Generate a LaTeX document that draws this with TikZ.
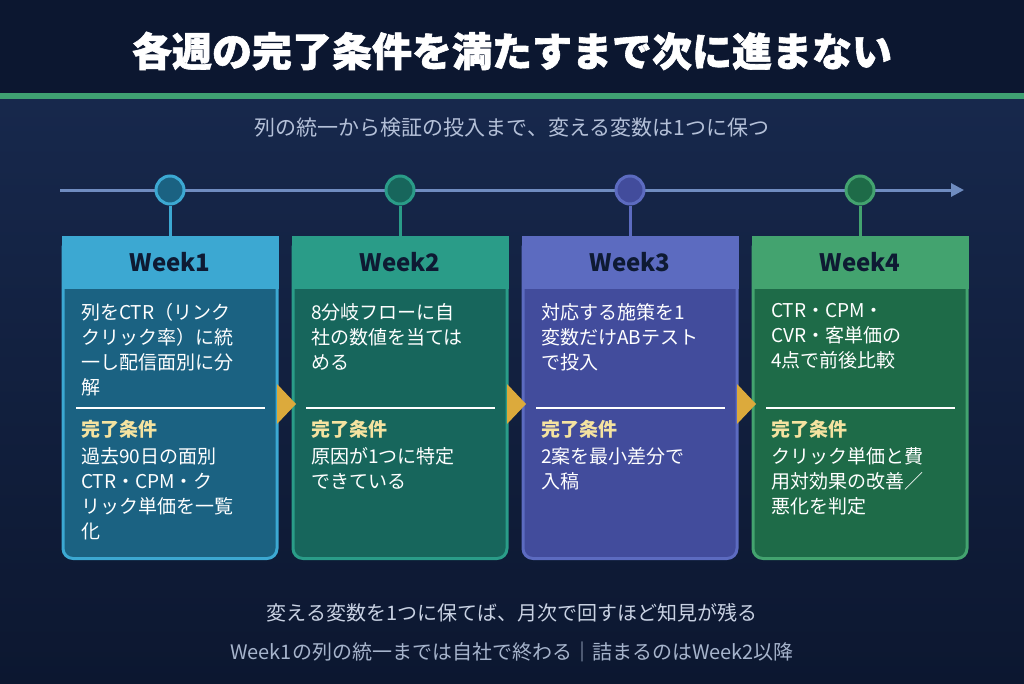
\documentclass[tikz,border=0pt]{standalone}
\usepackage{fontspec}
\setmainfont{Noto Sans CJK JP}
\newfontfamily\heavyfont{Noto Sans CJK JP}[BoldFeatures={FakeBold=1.5}]
\usetikzlibrary{arrows.meta, positioning, calc}
\definecolor{navy_dark}{HTML}{0C1730}
\definecolor{navy_mid}{HTML}{17284C}
\definecolor{stripe_green}{HTML}{3FA172}
\definecolor{axis_blue}{HTML}{6F8CC0}
\definecolor{sub_gray}{HTML}{B4C0D8}
\definecolor{foot_gray}{HTML}{C9D2E3}
\definecolor{note_gray}{HTML}{A6B4CC}
\definecolor{gold}{HTML}{DCAA3C}
\definecolor{cond_yellow}{HTML}{F5E3A0}
\definecolor{ink}{HTML}{0E1A33}
\definecolor{wk1_head}{HTML}{3CA8D2}
\definecolor{wk1_body}{HTML}{1B6282}
\definecolor{wk2_head}{HTML}{2A9C88}
\definecolor{wk2_body}{HTML}{17665C}
\definecolor{wk3_head}{HTML}{5C6BC0}
\definecolor{wk3_body}{HTML}{424C9C}
\definecolor{wk4_head}{HTML}{43A36F}
\definecolor{wk4_body}{HTML}{1E6B48}

\begin{document}
\begin{tikzpicture}[
    x=1pt, y=-1pt,
    title/.style={
        text=white,
        inner sep=0pt,
        font=\fontsize{40}{46}\selectfont\heavyfont\bfseries
    },
    subtitle/.style={
        text=#1,
        inner sep=0pt,
        font=\fontsize{21}{25}\selectfont
    },
    card/.style={
        rectangle,
        draw=wk#1_head,
        fill=wk#1_body,
        line width=3pt,
        rounded corners=10pt,
        minimum width=214pt,
        minimum height=321pt
    },
    head/.style={
        rectangle,
        fill=wk#1_head,
        text=ink,
        minimum width=217pt,
        minimum height=53pt,
        inner sep=0pt,
        font=\fontsize{24}{28}\selectfont\bfseries
    },
    dot/.style={
        circle,
        draw=wk#1_head,
        fill=wk#1_body,
        line width=3pt,
        minimum size=28pt,
        inner sep=0pt
    },
    stem/.style={
        line width=3pt,
        draw=wk#1_head
    },
    desc/.style={
        anchor=north west,
        inner sep=0pt,
        align=left,
        text=white,
        font=\fontsize{19}{25}\selectfont
    },
    condlabel/.style={
        anchor=west,
        inner sep=0pt,
        text=cond_yellow,
        font=\fontsize{19}{25}\selectfont\bfseries
    },
    divider/.style={
        white,
        line width=2.5pt
    },
    axis/.style={
        -{Triangle[length=13pt,width=13pt]},
        line width=3pt,
        axis_blue
    }
]

\useasboundingbox (0,0) rectangle (1024,683);

% Background, title band and green stripe
\shade[top color=navy_mid, bottom color=navy_dark] (0,99) rectangle (1024,683);
\fill[navy_dark] (0,0) rectangle (1024,93);
\fill[stripe_green] (0,93) rectangle (1024,99);

% Define column positions
\def\colA{170}
\def\colB{400}
\def\colC{630}
\def\colD{860}

% Title and subtitle
\node[title] (title) at (512,51) {各週の完了条件を満たすまで次に進まない};
\node[subtitle=sub_gray] (subtitle) at (512,128) {列の統一から検証の投入まで、変える変数は1つに保つ};

% Timeline with week markers
\coordinate (axis_start) at (60,190);
\coordinate (axis_end) at (964,190);
\draw[axis] (axis_start) -- (axis_end);
\node[dot=1] (dot1) at (\colA,190) {};
\node[dot=2] (dot2) at (\colB,190) {};
\node[dot=3] (dot3) at (\colC,190) {};
\node[dot=4] (dot4) at (\colD,190) {};

% Week cards
\node[card=1] (card1) at (\colA,398) {};
\node[card=2] (card2) at (\colB,398) {};
\node[card=3] (card3) at (\colC,398) {};
\node[card=4] (card4) at (\colD,398) {};

\node[head=1] (head1) at (\colA,262.5) {Week1};
\node[head=2] (head2) at (\colB,262.5) {Week2};
\node[head=3] (head3) at (\colC,262.5) {Week3};
\node[head=4] (head4) at (\colD,262.5) {Week4};

% Stems from markers to cards
\foreach \i in {1,...,4} {
    \draw[stem=\i] (dot\i) -- (head\i);
}

% Tasks of each week
\node[desc] (desc1) at (\colA-89,303) {列をCTR（リンク\\クリック率）に統\\一し配信面別に分\\解};
\node[desc] (desc2) at (\colB-89,303) {8分岐フローに自\\社の数値を当ては\\める};
\node[desc] (desc3) at (\colC-89,303) {対応する施策を1\\変数だけABテスト\\で投入};
\node[desc] (desc4) at (\colD-89,303) {CTR・CPM・\\CVR・客単価の\\4点で前後比較};

% Dividers between task and condition
\foreach \x in {\colA,\colB,\colC,\colD} {
    \draw[divider] (\x-94,408) -- (\x+95,408);
}

% Completion conditions
\node[condlabel] (cond1) at (\colA-89,429) {完了条件};
\node[condlabel] (cond2) at (\colB-89,429) {完了条件};
\node[condlabel] (cond3) at (\colC-89,429) {完了条件};
\node[condlabel] (cond4) at (\colD-89,429) {完了条件};

\node[desc] (condtext1) at (\colA-89,447) {過去90日の面別\\CTR・CPM・ク\\リック単価を一覧\\化};
\node[desc] (condtext2) at (\colB-89,447) {原因が1つに特定\\できている};
\node[desc] (condtext3) at (\colC-89,447) {2案を最小差分で\\入稿};
\node[desc] (condtext4) at (\colD-89,447) {クリック単価と費\\用対効果の改善／\\悪化を判定};

% Gold arrows between cards
\foreach \x in {\colA,\colB,\colC} {
    \fill[gold] (\x+107,384) -- (\x+126,404) -- (\x+107,424) -- cycle;
}

% Footer notes
\node[subtitle=foot_gray, font=\fontsize{20}{24}\selectfont] (foot_main) at (512,613) {変える変数を1つに保てば、月次で回すほど知見が残る};
\node[subtitle=note_gray, font=\fontsize{20}{24}\selectfont] (foot_sub) at (512,652) {Week1の列の統一までは自社で終わる｜詰まるのはWeek2以降};

\end{tikzpicture}
\end{document}
